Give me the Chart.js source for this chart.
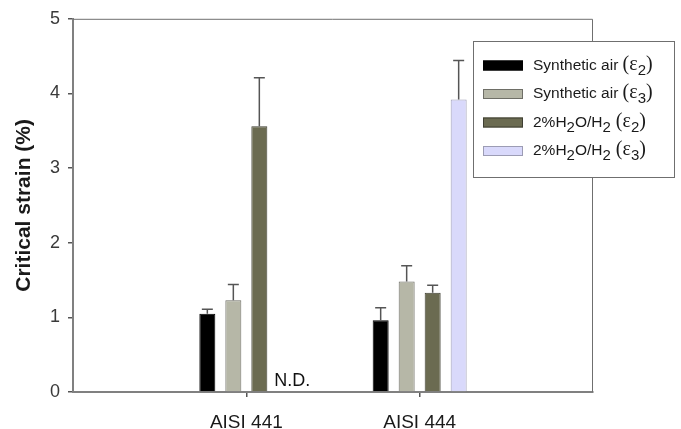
<!DOCTYPE html>
<html>
<head>
<meta charset="utf-8">
<script src="https://cdn.jsdelivr.net/npm/chart.js@4/dist/chart.umd.min.js"></script>
<style>
  body { margin: 0; background: #fff; }
  #chart { display: block; }
</style>
</head>
<body>
<canvas id="chart" width="681" height="429"></canvas>
<script>
// DATA
const groups = ["AISI 441", "AISI 444"];
const seriesNames = ["Synthetic air (ε2)", "Synthetic air (ε3)", "2%H2O/H2 (ε2)", "2%H2O/H2 (ε3)"];
const airE2 = [1.05, 0.96];
const airE3 = [1.23, 1.48];
const wetE2 = [3.56, 1.33];
const wetE3 = [null, 3.92];   // N.D. for AISI 441
const airE2Err = [0.06, 0.17];
const airE3Err = [0.21, 0.21];
const wetE2Err = [0.65, 0.10];
const wetE3Err = [null, 0.52];
const yTicks = [0, 1, 2, 3, 4, 5];

const colors = ["#000000", "#b6b7a7", "#6b6b51", "#d9d9fb"];
const borders = ["#000000", "#6e6e66", "#3f3f33", "#9c9cb4"];

// empty slots on both ends so the groups sit at 1/3 and 2/3 of the axis
const labels = ["", ...groups, ""];
const pad = arr => [null, ...arr, null];

const values = [airE2, airE3, wetE2, wetE3];
const errors = [airE2Err, airE3Err, wetE2Err, wetE3Err];

// legend entries split into runs: [text, font]
const legendRuns = [
  [["Synthetic air ", "sans"], ["(ε", "serif"], ["2", "sub"], [")", "serif"]],
  [["Synthetic air ", "sans"], ["(ε", "serif"], ["3", "sub"], [")", "serif"]],
  [["2%H", "sans"], ["2", "sub"], ["O/H", "sans"], ["2", "sub"], [" (ε", "serif"], ["2", "sub"], [")", "serif"]],
  [["2%H", "sans"], ["2", "sub"], ["O/H", "sans"], ["2", "sub"], [" (ε", "serif"], ["3", "sub"], [")", "serif"]]
];

// PLUGINS
const framePlugin = {
  id: "frame",
  afterDraw(chart) {
    const { ctx, chartArea: a } = chart;
    ctx.save();
    ctx.strokeStyle = "#6f6f6f";
    ctx.lineWidth = 1;
    ctx.beginPath();
    ctx.moveTo(a.left, a.top + 0.5);
    ctx.lineTo(a.right - 0.5, a.top + 0.5);
    ctx.lineTo(a.right - 0.5, a.bottom);
    ctx.stroke();
    ctx.restore();
  }
};

const errorBarPlugin = {
  id: "errorBars",
  afterDatasetsDraw(chart) {
    const { ctx } = chart;
    const y = chart.scales.y;
    ctx.save();
    ctx.strokeStyle = "#555";
    ctx.lineWidth = 1.5;
    errors.forEach((errs, d) => {
      const meta = chart.getDatasetMeta(d);
      errs.forEach((e, i) => {
        const v = values[d][i];
        if (v == null || e == null) return;
        const bar = meta.data[i + 1];
        const top = y.getPixelForValue(v + e);
        ctx.beginPath();
        ctx.moveTo(bar.x, bar.y);
        ctx.lineTo(bar.x, top);
        ctx.moveTo(bar.x - 5.5, top);
        ctx.lineTo(bar.x + 5.5, top);
        ctx.stroke();
      });
    });

    // N.D. marks where a series has no value
    ctx.fillStyle = "#111";
    ctx.font = "18px Arial, 'Liberation Sans', sans-serif";
    ctx.textBaseline = "alphabetic";
    values.forEach((vals, d) => {
      vals.forEach((v, i) => {
        if (v != null) return;
        const ref = chart.getDatasetMeta(d - 1).data[i + 1];
        const prev = chart.getDatasetMeta(d - 2).data[i + 1];
        const x = ref.x + (ref.x - prev.x);
        ctx.fillText("N.D.", x - 11, y.getPixelForValue(0) - 6);
      });
    });
    ctx.restore();
  }
};

const legendPlugin = {
  id: "boxLegend",
  afterDraw(chart) {
    const { ctx } = chart;
    const left = 473, top = 41, w = 201, h = 136;
    ctx.save();
    ctx.fillStyle = "#fff";
    ctx.fillRect(left, top, w, h);
    ctx.strokeStyle = "#6f6f6f";
    ctx.lineWidth = 1;
    ctx.strokeRect(left + 0.5, top + 0.5, w, h);

    legendRuns.forEach((runs, r) => {
      const cy = top + 24.5 + r * 28.5;
      ctx.fillStyle = colors[r];
      ctx.fillRect(483, cy - 5, 40, 10);
      ctx.strokeStyle = borders[r];
      ctx.strokeRect(483.5, cy - 4.5, 39, 9);

      let x = 533;
      const base = cy + 4;
      ctx.fillStyle = "#1a1a1a";
      runs.forEach(([text, kind]) => {
        let dy = 0;
        if (kind === "sans") ctx.font = "15.5px Arial, 'Liberation Sans', sans-serif";
        else if (kind === "serif") ctx.font = "20px 'Times New Roman', 'Liberation Serif', serif";
        else { ctx.font = "15px Arial, 'Liberation Sans', sans-serif"; dy = 5; }
        ctx.fillText(text, x, base + dy);
        x += ctx.measureText(text).width;
      });
    });
    ctx.restore();
  }
};

// CHART
const edgeTick = c => (c.index === 0 || c.index === labels.length - 1) ? "rgba(0,0,0,0)" : "#555";

new Chart(document.getElementById("chart"), {
  type: "bar",
  data: {
    labels: labels,
    datasets: values.map((vals, d) => ({
      label: seriesNames[d],
      data: pad(vals),
      backgroundColor: colors[d],
      borderColor: borders[d],
      borderWidth: 1,
      categoryPercentage: 0.6,
      barPercentage: 0.615
    }))
  },
  options: {
    responsive: false,
    animation: false,
    devicePixelRatio: 1,
    layout: { padding: { top: 17, right: 88, left: 0, bottom: 0 } },
    plugins: {
      legend: { display: false },
      tooltip: { enabled: false }
    },
    scales: {
      x: {
        offset: false,
        grid: { offset: false, drawOnChartArea: false, tickLength: 5, color: edgeTick, lineWidth: 1.5 },
        border: { color: "#808080", width: 2 },
        ticks: {
          autoSkip: false,
          maxRotation: 0,
          padding: 14,
          color: "#1a1a1a",
          font: { family: "Arial, 'Liberation Sans', sans-serif", size: 19 }
        },
        afterFit(s) { s.height = 37; }
      },
      y: {
        min: yTicks[0],
        max: yTicks[yTicks.length - 1],
        afterBuildTicks(s) { s.ticks = yTicks.map(v => ({ value: v })); },
        grid: { drawOnChartArea: false, tickLength: 5, color: "#555", lineWidth: 1.5 },
        border: { color: "#808080", width: 2 },
        ticks: {
          padding: 8,
          color: "#3a3a3a",
          font: { family: "Arial, 'Liberation Sans', sans-serif", size: 18 }
        },
        title: {
          display: true,
          text: "Critical strain (%)",
          color: "#1a1a1a",
          padding: { top: 12, bottom: 0 },
          font: { family: "Arial, 'Liberation Sans', sans-serif", size: 21, weight: "bold" }
        },
        afterFit(s) { s.width = 73; }
      }
    }
  },
  plugins: [framePlugin, errorBarPlugin, legendPlugin]
});
</script>
</body>
</html>
